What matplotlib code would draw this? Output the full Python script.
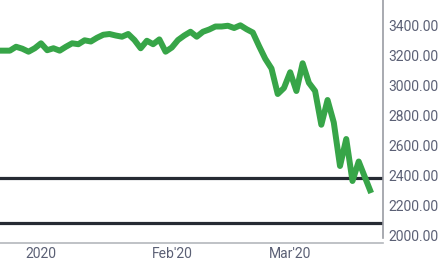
import matplotlib.pyplot as plt

# trading days from Dec 20 2019 to Mar 19 2020 (index only)
values = [3229, 3229, 3229, 3255, 3242, 3222, 3245, 3278, 3232, 3245,
          3229, 3255, 3278, 3272, 3298, 3290, 3315, 3335, 3340, 3330,
          3322, 3340, 3300, 3245, 3295, 3272, 3304, 3222, 3250, 3300,
          3330, 3355, 3322, 3355, 3370, 3390, 3390, 3395, 3380, 3398,
          3372, 3350, 3260, 3175, 3110, 2940, 2980, 3085, 2960, 3145,
          3015, 2960, 2735, 2900, 2750, 2460, 2640, 2360, 2490, 2385,
          2280]
levels = [2380, 2082]
tick_pos = [7, 28, 47]
tick_labels = ['2020', "Feb'20", "Mar'20"]
y_ticks = [2000, 2200, 2400, 2600, 2800, 3000, 3200, 3400]

plt.rcParams['font.family'] = ['Roboto', 'DejaVu Sans']

fig = plt.figure(figsize=(4.44, 2.65), dpi=100)
ax = fig.add_axes([0, 1 - 243 / 265, 383 / 444, 243 / 265])

for lv in levels:
    ax.axhline(lv, color='#262a33', lw=2.3, zorder=2)

ax.plot(range(len(values)), values, color='#37a548', lw=4.3,
        solid_joinstyle='round', solid_capstyle='butt', zorder=3)

ax.set_xlim(0.42, 61.9)
ax.set_ylim(1946.7, 3566.7)

ax.yaxis.tick_right()
ax.set_yticks(y_ticks)
ax.set_yticklabels([f'{v:.2f}' for v in y_ticks])
ax.set_xticks(tick_pos)
ax.set_xticklabels(tick_labels)
ax.tick_params(axis='both', length=0, labelsize=10, labelcolor='#5b6075')
ax.tick_params(axis='y', pad=4)
ax.tick_params(axis='x', pad=3)

ax.spines['left'].set_visible(False)
ax.spines['top'].set_visible(False)
ax.spines['right'].set_color('#9a9ca3')
ax.spines['right'].set_linewidth(1.2)
ax.spines['right'].set_bounds(1980, 3566.7)
ax.spines['bottom'].set_color('#b4b7bc')
ax.spines['bottom'].set_linewidth(1.2)

fig.savefig('out.png', dpi=100)
